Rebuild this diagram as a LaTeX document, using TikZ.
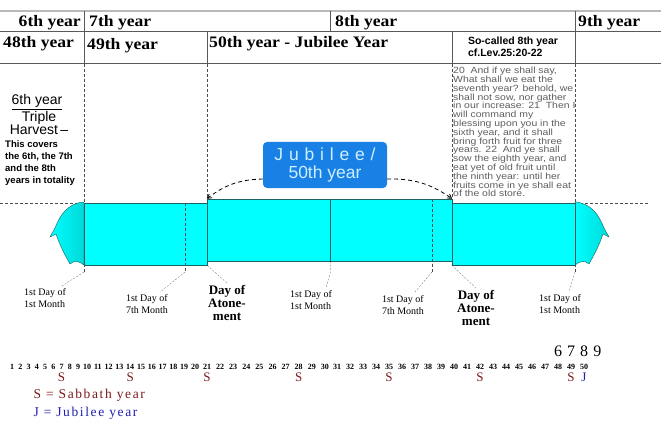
\documentclass[tikz,border=0pt]{standalone}
\usepackage{fontspec}
\setmainfont{Liberation Serif}
\setsansfont{Liberation Sans}
\newfontfamily\hdrfont[FakeStretch=1.1]{Liberation Serif}
\newfontfamily\levfont[FakeStretch=1.16]{Liberation Sans}
\newfontfamily\legfont[LetterSpace=12]{Liberation Serif}
\usetikzlibrary{arrows,positioning}
\definecolor{bandcyan}{RGB}{0,255,255}
\definecolor{bandedge}{RGB}{30,95,95}
\definecolor{jubblue}{RGB}{25,128,230}
\definecolor{jubtext}{RGB}{205,240,255}
\definecolor{sabred}{RGB}{125,25,30}
\definecolor{jubj}{RGB}{30,30,180}
\definecolor{levgray}{RGB}{95,95,95}

\begin{document}
\begin{tikzpicture}[x=1pt,y=-1pt,>=angle 60,
    grid/.style={draw=gray!70!black, line width=1pt},
    hdr/.style={font=\hdrfont\fontsize{16}{16}\selectfont\bfseries, inner sep=0pt, anchor=base west},
    band/.style={draw=bandedge, fill=bandcyan, thin, minimum height=62pt, inner sep=0pt},
    guide/.style={draw=gray!60!black, dash pattern=on 3pt off 2pt, thin},
    lead/.style={draw=gray!50!black, dash pattern=on 2pt off 1.5pt, very thin},
    day/.style={font=\fontsize{10}{12.5}\selectfont, align=left, inner sep=0pt},
    atone/.style={font=\fontsize{13}{13}\selectfont\bfseries, align=center, inner sep=0pt},
    num/.style={font=\fontsize{8}{8}\selectfont\bfseries, inner sep=0pt},
    yr/.style={font=\fontsize{16}{16}\selectfont, inner sep=0pt},
    sab/.style={font=\fontsize{13}{13}\selectfont, text=sabred, inner sep=0pt},
    legend/.style={font=\legfont\fontsize{13.5}{13.5}\selectfont, anchor=west}]

  \fill[white] (0,0) rectangle (661,441);
  \useasboundingbox (0,0) rectangle (661,441);

  % header grid
  \draw[gray!55, line width=1.6pt] (0,11) -- (661,11);
  \draw[grid] (0,32) -- (661,32) (0,64) -- (661,64);
  \draw[grid] (84,11) -- (84,64) (330,11) -- (330,32) (575,11) -- (575,64)
              (207,32) -- (207,64) (452,32) -- (452,64);

  \node[hdr, anchor=base east] (y6) at (81,27) {6th year};
  \node[hdr] (y7)  at (89,27)  {7th year};
  \node[hdr] (y8)  at (335,27) {8th year};
  \node[hdr] (y9)  at (578,27) {9th year};
  \node[hdr] (y48) at (3,48)   {48th year};
  \node[hdr] (y49) at (87,50)  {49th year};
  \node[hdr] (y50) at (209,48) {50th year - Jubilee Year};
  \node[font=\sffamily\bfseries\fontsize{10.5}{12}\selectfont, align=left, inner sep=0pt]
       (so8) at (513,47) {So-called 8th year\\cf.Lev.25:20-22};

  % dashed guides
  \draw[guide] (84,64) -- (84,272) (207,64) -- (207,199) (452,64) -- (452,199)
               (575,64) -- (575,272) (185,203) -- (185,272) (432,199) -- (432,272)
               (0,203) -- (84,203) (575,203) -- (650,203);

  % the band
  \foreach \sh/\sc in {0/1,659/-1} {
    \begin{scope}[xshift=\sh pt, xscale=\sc]
      \draw[bandedge, left color=bandcyan, right color=bandcyan!70!teal]
        (84,202) .. controls (68,203) and (60,215) .. (55,228) -- (50,237) -- (56,234)
        .. controls (60,246) and (65,255) .. (70,264)
        .. controls (74,260) and (79,261) .. (84,265) -- cycle;
    \end{scope}
  }
  \node[band, minimum width=123pt] (sec1) at (145.5,234) {};
  \node[band, minimum width=123pt] (sec2) at (268.5,230) {};
  \node[band, minimum width=122pt] (sec3) at (391,230) {};
  \node[band, minimum width=123pt] (sec4) at (513.5,234) {};
  \draw[guide] (84,203) -- (84,265) (575,203) -- (575,265)
               (185,203) -- (185,265) (432,199) -- (432,261);

  % labels under the band
  \node[day]   (d1) at (45,298)  {1st Day of\\1st Month};
  \node[day]   (d2) at (147,304) {1st Day of\\7th Month};
  \node[atone] (a1) at (227,303) {Day of\\Atone-\\ment};
  \node[day]   (d3) at (311,300) {1st Day of\\1st Month};
  \node[day]   (d4) at (403,305) {1st Day of\\7th Month};
  \node[atone] (a2) at (476,308) {Day of\\Atone-\\ment};
  \node[day]   (d5) at (560,304) {1st Day of\\1st Month};

  \draw[lead] (84,272) -- ([xshift=-4pt,yshift=2pt]d1.north east)
              (185,272) -- ([xshift=-8pt,yshift=2pt]d2.north east)
              (sec1.south east) -- ([yshift=2pt]a1.north)
              (sec2.south east) -- ++(0,12) -- ([xshift=-6pt,yshift=2pt]d3.north east)
              (432,272) -- ([xshift=-10pt,yshift=2pt]d4.north east)
              (sec4.south west) -- ([yshift=2pt]a2.north)
              (575,272) -- ([xshift=-12pt,yshift=2pt]d5.north east);

  % jubilee box
  \node[fill=jubblue, rounded corners=4pt, minimum width=124pt, minimum height=46pt,
        text=jubtext, font=\sffamily\fontsize{17.5}{18}\selectfont, align=center]
       (jub) at (325,165) {J\,\,u\,\,b\,\,i\,\,l\,\,e\,\,e\,\,/\\50th year};
  \draw[->, thick, dash pattern=on 4pt off 3pt]
       ([yshift=-14pt]jub.west) to[bend right=18] (sec2.north west);
  \draw[->, thick, dash pattern=on 4pt off 3pt]
       ([yshift=-14pt]jub.east) to[bend left=18] (sec3.north east);

  % left notes
  \node[font=\sffamily\fontsize{14}{14}\selectfont] (h6) at (37,102) {\underline{6th year}};
  \node[font=\sffamily\fontsize{14}{13}\selectfont, align=center] (trip) at (39,123) {Triple\\Harvest\,--};
  \node[font=\sffamily\bfseries\fontsize{9.5}{12}\selectfont, align=left, anchor=north west, inner sep=0pt]
       (cov) at (5,140) {This covers\\the 6th, the 7th\\and the 8th\\years in totality};

  % Lev. 25:20-22
  \node[font=\levfont\fontsize{9}{8.8}\selectfont, text=levgray, align=left,
        anchor=north west, inner sep=0pt] (lev) at (453,67)
       {20\ \ And if ye shall say,\\What shall we eat the\\seventh year? behold, we\\
        shall not sow, nor gather\\in our increase: 21\ \ Then I\\will command my\\
        blessing upon you in the\\sixth year, and it shall\\bring forth fruit for three\\
        years. 22\ \ And ye shall\\sow the eighth year, and\\eat yet of old fruit until\\
        the ninth year: until her\\fruits come in ye shall eat\\of the old store.};

  % years 1..50
  \foreach \i in {1,...,50} {
    \pgfmathsetmacro\nx{\i<10 ? 12+8.25*(\i-1) : (\i<21 ? 87+10.8*(\i-10) : (\i<31 ? 207+13.1*(\i-21) : 337+13*(\i-31)))}
    \node[num] (n\i) at (\nx,367) {\i};
  }
  \foreach \i in {7,14,...,49}
    \node[sab, below=3pt of n\i] (sab\i) {S};
  \node[sab, text=jubj, below=3pt of n50] (j50) {J};

  \node[yr, above=7pt of n48] (c6) {6};
  \node[yr, above=7pt of n49] (c7) {7};
  \node[yr, above=7pt of n50] (c8) {8};
  \node[yr, right=5pt of c8]  (c9) {9};

  % legend
  \node[legend, text=sabred] (legs) at (30,395) {S = Sabbath year};
  \node[legend, text=jubj]   (legj) at (30,413) {J = Jubilee year};
\end{tikzpicture}
\end{document}
